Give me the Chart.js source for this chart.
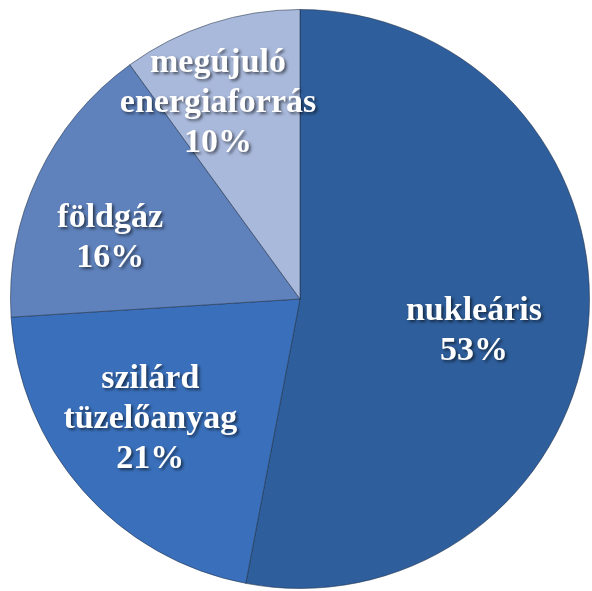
<!DOCTYPE html>
<html>
<head>
<meta charset="utf-8">
<script src="https://cdn.jsdelivr.net/npm/chart.js@4.4.0/dist/chart.umd.min.js"></script>
<style>
  html, body { margin: 0; padding: 0; background: #fff; }
  .chart-wrapper { width: 592px; height: 591px; }
</style>
</head>
<body>
<div class="chart-wrapper"><canvas id="chart" width="592" height="591"></canvas></div>
<script>
const categories = ["nukleáris", "szilárd tüzelőanyag", "földgáz", "megújuló energiaforrás"];
const shares = [53, 21, 16, 10];
const labelLines = [
  ["nukleáris", "53%"],
  ["szilárd", "tüzelőanyag", "21%"],
  ["földgáz", "16%"],
  ["megújuló", "energiaforrás", "10%"],
];
const colors = ["#2E5E9B", "#3A70BB", "#5F82BC", "#A9B9DB"];

// where each label sits inside its slice (fraction of radius, angle shift in degrees)
const labelRadius = [0.61, 0.66, 0.69, 0.74];
const labelShift = [4.5, 3, -7, -4.5];

const sliceLabels = {
  id: "sliceLabels",
  afterDatasetsDraw(chart) {
    const c = chart.ctx;
    const arcs = chart.getDatasetMeta(0).data;
    c.save();
    c.font = "bold 34px 'Liberation Serif', 'Times New Roman', serif";
    c.fillStyle = "#fff";
    c.textAlign = "center";
    c.textBaseline = "middle";
    c.shadowColor = "rgba(0,0,0,0.55)";
    c.shadowOffsetX = 2;
    c.shadowOffsetY = 2;
    c.shadowBlur = 3;
    arcs.forEach((arc, i) => {
      const p = arc.getProps(["x", "y", "startAngle", "endAngle", "outerRadius"], true);
      const mid = (p.startAngle + p.endAngle) / 2 + labelShift[i] * Math.PI / 180;
      const r = p.outerRadius * labelRadius[i];
      const cx = p.x + r * Math.cos(mid);
      const cy = p.y + r * Math.sin(mid);
      const lines = labelLines[i];
      const lh = 40;
      lines.forEach((t, k) => {
        c.fillText(t, cx, cy + 2 + (k - (lines.length - 1) / 2) * lh);
      });
    });
    c.restore();
  }
};

const ctx = document.getElementById("chart");

new Chart(ctx, {
  type: "pie",
  data: {
    labels: categories,
    datasets: [{
      data: shares,
      backgroundColor: colors,
      borderColor: "rgba(30,45,70,0.55)",
      borderWidth: 1,
    }],
  },
  options: {
    responsive: false,
    animation: false,
    layout: { padding: { left: 10, right: 2, top: 9, bottom: 2 } },
    plugins: {
      legend: { display: false },
      tooltip: { enabled: false },
    },
  },
  plugins: [sliceLabels],
});
</script>
</body>
</html>
